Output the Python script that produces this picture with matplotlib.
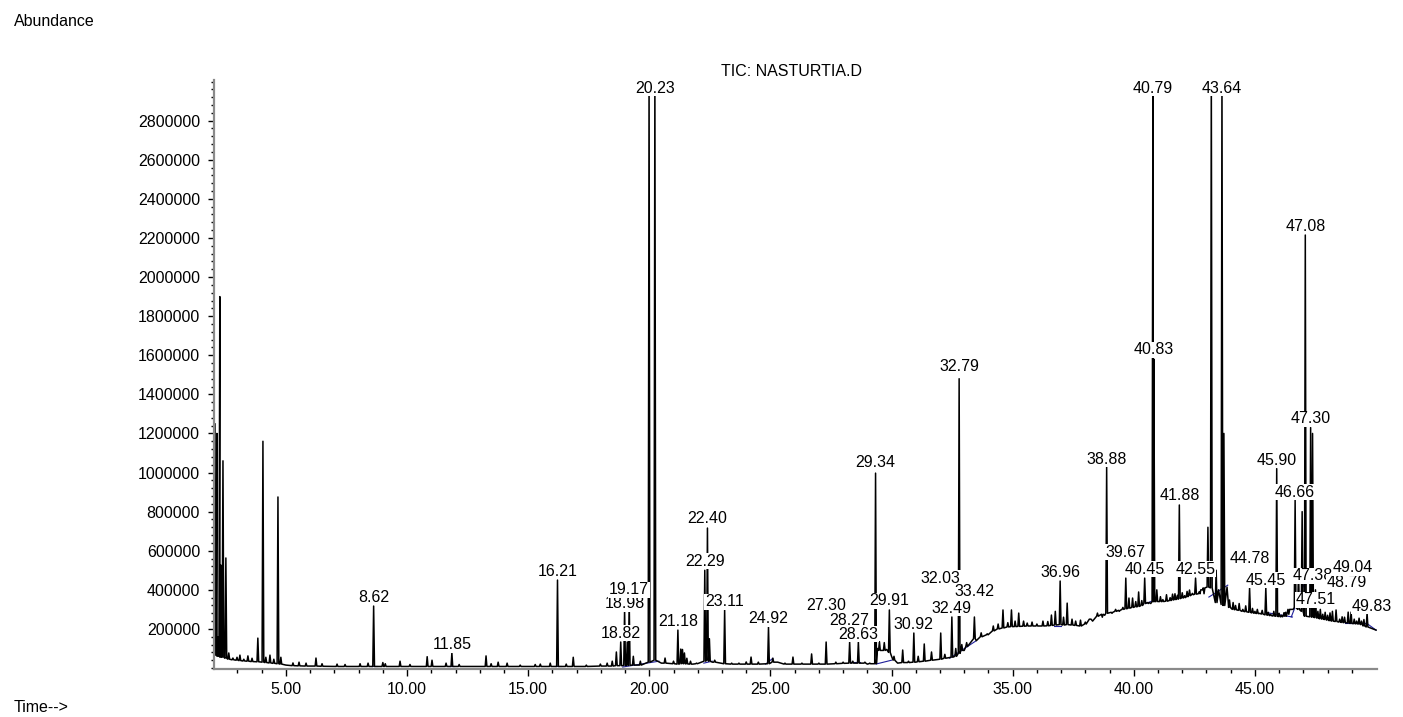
import numpy as np
import matplotlib
matplotlib.use('Agg')
import matplotlib.pyplot as plt
from matplotlib.ticker import MultipleLocator, FixedLocator

plt.rcParams['font.family'] = ['Liberation Sans', 'DejaVu Sans']

# peaks: retention time (min), apex, foot (abundance)
peak_rt = [2.07, 2.15, 2.19, 2.27, 2.31, 2.40, 2.52, 2.64, 2.81, 2.98, 3.10, 3.26, 3.43, 3.60,
           3.84, 4.05, 4.17, 4.34, 4.50, 4.67, 4.79, 5.29, 5.54, 5.83, 6.24, 6.49, 7.11, 7.44,
           8.06, 8.39, 8.62, 9.00, 9.10, 9.71, 10.12, 10.83, 11.03, 11.61, 11.85, 12.15, 13.26,
           13.47, 13.76, 14.13, 14.67, 15.29, 15.50, 15.91, 16.21, 16.57, 16.86, 17.40, 17.98,
           18.26, 18.47, 18.64, 18.82, 18.98, 19.09, 19.17, 19.34, 19.63, 19.99, 20.23, 20.65,
           21.00, 21.18, 21.30, 21.37, 21.45, 21.55, 21.70, 21.95, 22.29, 22.40, 22.48, 22.70,
           23.11, 23.40, 23.70, 24.00, 24.20, 24.50, 24.92, 25.10, 25.60, 25.93, 26.30, 26.70,
           27.00, 27.30, 27.70, 28.00, 28.27, 28.40, 28.63, 28.90, 29.10, 29.34, 29.50, 29.70,
           29.91, 30.10, 30.46, 30.70, 30.92, 31.10, 31.35, 31.65, 32.03, 32.20, 32.49, 32.65,
           32.79, 32.90, 33.10, 33.42, 33.70, 33.95, 34.20, 34.40, 34.60, 34.80, 34.95, 35.10,
           35.25, 35.45, 35.60, 35.80, 36.00, 36.25, 36.45, 36.60, 36.76, 36.96, 37.10, 37.25,
           37.45, 37.60, 37.80, 38.00, 38.20, 38.50, 38.70, 38.88, 39.10, 39.25, 39.40, 39.55,
           39.67, 39.80, 39.95, 40.08, 40.20, 40.33, 40.45, 40.60, 40.79, 40.83, 40.95, 41.10,
           41.20, 41.35, 41.50, 41.60, 41.70, 41.80, 41.88, 42.00, 42.10, 42.20, 42.30, 42.42,
           42.55, 42.70, 42.80, 42.90, 43.06, 43.20, 43.40, 43.64, 43.72, 43.95, 44.10, 44.20,
           44.35, 44.50, 44.62, 44.78, 44.90, 45.00, 45.10, 45.20, 45.30, 45.45, 45.55, 45.65,
           45.78, 45.90, 46.00, 46.10, 46.20, 46.30, 46.40, 46.50, 46.66, 46.80, 46.95, 47.08,
           47.30, 47.38, 47.50, 47.60, 47.70, 47.80, 47.90, 48.00, 48.10, 48.20, 48.35, 48.50,
           48.60, 48.70, 48.85, 48.97, 49.10, 49.20, 49.30, 49.40, 49.50, 49.63, 49.75, 49.87]
peak_top = [1250000, 1200000, 160000, 1900000, 527000, 1060000, 563000, 77000, 51000, 55000,
            66000, 45000, 62000, 50000, 153000, 1160000, 55000, 66000, 45000, 875000, 55000,
            26000, 30000, 25000, 51000, 22000, 20000, 18000, 22000, 25000, 317000, 28000, 22000,
            35000, 18000, 58000, 40000, 25000, 77000, 18000, 62000, 22000, 30000, 25000, 15000,
            18000, 20000, 25000, 450000, 20000, 55000, 15000, 20000, 25000, 35000, 82000, 133000,
            300000, 133000, 340000, 60000, 35000, 3050000, 3050000, 51000, 35000, 194000, 97000,
            95000, 77000, 50000, 35000, 25000, 500000, 716000, 150000, 40000, 297000, 25000,
            25000, 31000, 56000, 30000, 210000, 50000, 25000, 56000, 25000, 72000, 25000, 133000,
            30000, 30000, 133000, 35000, 133000, 30000, 25000, 997000, 135000, 130000, 297000,
            60000, 92000, 35000, 179000, 60000, 123000, 82000, 179000, 70000, 261000, 100000,
            1480000, 120000, 130000, 261000, 180000, 175000, 215000, 225000, 297000, 232000,
            297000, 240000, 281000, 240000, 230000, 235000, 225000, 240000, 238000, 271000,
            290000, 445000, 260000, 332000, 250000, 240000, 245000, 235000, 250000, 281000,
            260000, 1030000, 280000, 300000, 290000, 310000, 460000, 358000, 358000, 340000,
            389000, 345000, 460000, 330000, 3050000, 1580000, 400000, 365000, 350000, 375000,
            360000, 378000, 380000, 372000, 834000, 385000, 370000, 392000, 399000, 382000,
            460000, 390000, 400000, 380000, 720000, 3050000, 500000, 3050000, 1200000, 348000,
            335000, 320000, 330000, 300000, 318000, 409000, 305000, 290000, 300000, 280000,
            295000, 409000, 285000, 275000, 290000, 1020000, 280000, 270000, 283000, 265000,
            275000, 300000, 859000, 500000, 800000, 2215000, 1230000, 1200000, 400000, 290000,
            300000, 275000, 285000, 270000, 282000, 290000, 297000, 250000, 262000, 260000,
            286000, 286000, 250000, 240000, 255000, 240000, 248000, 281000, 245000, 281000]
peak_foot = [70000, 65000, 60000, 60000, 55000, 55000, 50000, 45000, 42000, 40000, 38000,
             36000, 35000, 33000, 32000, 30000, 28000, 26000, 24000, 22000, 20000, 12000, 11000,
             10000, 10000, 9000, 8000, 8000, 8000, 8000, 8000, 8000, 8000, 8000, 8000, 8000,
             8000, 8000, 8000, 8000, 8000, 8000, 8000, 8000, 8000, 8000, 8000, 8000, 8000, 8000,
             8000, 8000, 10000, 10000, 10000, 12000, 12000, 13000, 13000, 14000, 15000, 15000,
             30000, 40000, 25000, 22000, 20000, 22000, 22000, 22000, 21000, 20000, 22000, 35000,
             40000, 35000, 30000, 22000, 20000, 20000, 20000, 20000, 20000, 22000, 30000, 20000,
             20000, 20000, 20000, 20000, 20000, 22000, 24000, 25000, 25000, 25000, 25000, 22000,
             22000, 90000, 90000, 80000, 40000, 28000, 28000, 30000, 32000, 35000, 40000, 45000,
             50000, 55000, 60000, 75000, 90000, 110000, 150000, 160000, 170000, 190000, 200000,
             205000, 210000, 212000, 212000, 213000, 214000, 215000, 215000, 215000, 215000,
             216000, 218000, 220000, 222000, 220000, 222000, 220000, 218000, 215000, 225000,
             250000, 265000, 275000, 280000, 285000, 290000, 295000, 300000, 303000, 306000,
             310000, 313000, 315000, 320000, 330000, 335000, 340000, 340000, 340000, 340000,
             340000, 342000, 345000, 348000, 350000, 352000, 355000, 358000, 360000, 365000,
             370000, 375000, 378000, 380000, 400000, 410000, 414000, 410000, 335000, 325000,
             320000, 310000, 300000, 298000, 295000, 290000, 288000, 285000, 282000, 280000,
             279000, 278000, 276000, 272000, 270000, 268000, 266000, 265000, 263000, 262000,
             265000, 285000, 300000, 300000, 310000, 300000, 290000, 265000, 262000, 260000,
             258000, 255000, 252000, 250000, 248000, 245000, 242000, 240000, 238000, 235000,
             233000, 232000, 230000, 228000, 227000, 226000, 225000, 222000, 215000, 210000]

# baseline between the peaks
base_t = [2.03, 2.60, 3.00, 3.50, 4.00, 4.50, 5.00, 6.00, 8.00, 10.00, 12.00, 14.00, 16.00,
          18.00, 19.50, 20.50, 21.80, 22.60, 23.50, 25.30, 27.00, 29.00, 29.42, 29.60, 29.80,
          30.00, 30.25, 31.00, 32.00, 32.50, 33.00, 33.50, 34.00, 34.45, 35.00, 36.00, 37.00,
          38.00, 38.30, 38.80, 39.50, 40.00, 40.70, 41.00, 41.60, 42.00, 42.45, 43.00, 43.50,
          43.85, 44.00, 44.60, 45.10, 45.55, 46.00, 46.40, 46.58, 47.62, 48.10, 48.60, 49.10,
          49.50, 50.00]
base_v = [80000, 50000, 40000, 35000, 30000, 25000, 15000, 10000, 8000, 8000, 8000, 8000,
          8000, 10000, 15000, 25000, 20000, 30000, 20000, 30000, 20000, 20000, 100000, 90000,
          95000, 60000, 25000, 30000, 45000, 60000, 90000, 140000, 175000, 205000, 215000,
          215000, 220000, 215000, 240000, 270000, 290000, 310000, 330000, 340000, 340000,
          355000, 370000, 380000, 400000, 414000, 340000, 305000, 285000, 275000, 265000,
          270000, 300000, 261000, 250000, 240000, 230000, 225000, 194000]

# integration baselines (blue)
blue_t0 = [8.50, 11.70, 16.10, 18.90, 22.25, 24.80, 28.30, 29.35, 32.40, 36.70, 40.50, 43.10, 45.60, 46.50, 48.70, 49.60]
blue_v0 = [8000, 8000, 8000, 5000, 25000, 20000, 30000, 20000, 50000, 215000, 330000, 363000, 281000, 261000, 230000, 230000]
blue_t1 = [8.75, 11.95, 16.35, 20.40, 22.60, 25.10, 28.70, 30.00, 33.50, 37.00, 40.90, 43.88, 46.55, 47.05, 49.60, 50.00]
blue_v1 = [8000, 8000, 8000, 35000, 35000, 50000, 30000, 40000, 140000, 215000, 350000, 424000, 261000, 435000, 230000, 194000]

# peak labels and the height where they sit
label_txt = ['8.62', '11.85', '16.21', '18.82', '18.98', '19.17', '20.23', '21.18', '22.40',
             '22.29', '23.11', '24.92', '27.30', '28.27', '28.63', '29.34', '29.91', '30.92',
             '32.03', '32.49', '32.79', '33.42', '36.96', '38.88', '39.67', '40.45', '40.79',
             '40.83', '41.88', '42.55', '43.64', '44.78', '45.45', '45.90', '46.66', '47.08',
             '47.30', '47.38', '47.51', '48.79', '49.04', '49.83']
label_v = [363000, 118000, 496000, 179000, 330000, 400000, 2967000, 240000, 767000, 547000,
           338000, 251000, 322000, 243000, 174000, 1049000, 343000, 225000, 460000, 307000,
           1540000, 389000, 491000, 1069000, 593000, 506000, 2967000, 1627000, 880000, 506000,
           2967000, 558000, 450000, 1064000, 900000, 2261000, 1274000, 471000, 348000, 438000,
           515000, 317000]

# build the trace
w = 0.035
pts = [(t, v) for t, v in zip(base_t, base_v)
       if min(abs(t - r) for r in peak_rt) > 2 * w]
for r, top, foot in zip(peak_rt, peak_top, peak_foot):
    pts += [(r - w, foot), (r, top), (r + w, foot)]
pts.sort()
tr_t = [p[0] for p in pts]
tr_v = [p[1] for p in pts]

fig = plt.figure(figsize=(14.03, 7.17), dpi=100)
ax = fig.add_axes([214 / 1403, 48 / 717, (1377 - 214) / 1403, (669 - 80) / 717])

ax.plot(tr_t, tr_v, color='black', lw=1.1, zorder=2)
for t0, v0, t1, v1 in zip(blue_t0, blue_v0, blue_t1, blue_v1):
    ax.plot([t0, t1], [v0, v1], color='#1f1f9a', lw=0.8, zorder=1.5)

for txt, v in zip(label_txt, label_v):
    ax.text(float(txt), v, txt, ha='center', va='center', fontsize=11.5, zorder=5,
            clip_on=False, bbox=dict(facecolor='white', edgecolor='none', pad=0.6))

ax.set_xlim(2.03, 50.04)
ax.set_ylim(-5000, 3008000)

ax.spines['top'].set_visible(False)
ax.spines['right'].set_visible(False)
for s in ['left', 'bottom']:
    ax.spines[s].set_color('#8a8a8a')
    ax.spines[s].set_linewidth(1.6)

ax.xaxis.set_major_locator(FixedLocator([5, 10, 15, 20, 25, 30, 35, 40, 45]))
ax.xaxis.set_minor_locator(FixedLocator(list(range(3, 50))))
ax.set_xticklabels(['5.00', '10.00', '15.00', '20.00', '25.00', '30.00', '35.00', '40.00', '45.00'])
ax.yaxis.set_major_locator(FixedLocator(list(range(200000, 3000000, 200000))))
ax.yaxis.set_minor_locator(MultipleLocator(40000))
ax.set_yticklabels([str(v) for v in range(200000, 3000000, 200000)])

ax.tick_params(axis='x', which='major', length=5, width=1, pad=4, labelsize=11.5)
ax.tick_params(axis='x', which='minor', length=3, width=1)
ax.tick_params(axis='y', which='major', length=4, width=1, pad=6, labelsize=11.5)
ax.tick_params(axis='y', which='minor', length=2.2, width=1)

fig.text(792 / 1403, 1 - 71 / 717, 'TIC: NASTURTIA.D', ha='center', va='center', fontsize=11.5)
fig.text(14 / 1403, 1 - 21 / 717, 'Abundance', ha='left', va='center', fontsize=11.5)
fig.text(14 / 1403, 1 - 708 / 717, 'Time-->', ha='left', va='center', fontsize=11.5)

fig.savefig('out.png', dpi=100)
